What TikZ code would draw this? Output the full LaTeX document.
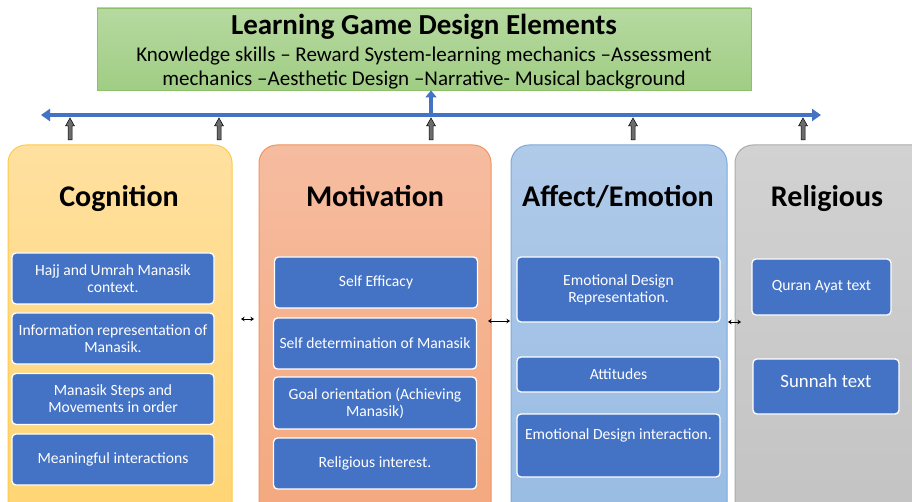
\documentclass[tikz,border=0pt]{standalone}
\usepackage{fontspec}
\setmainfont{Carlito}
\usetikzlibrary{arrows.meta}
\definecolor{boxblue}{HTML}{4472C4}
\definecolor{barblue}{HTML}{4472C4}
\definecolor{gtop}{HTML}{B6D9A0}
\definecolor{gbot}{HTML}{A0CD84}
\definecolor{gline}{HTML}{8CC06A}
\definecolor{ctop}{HTML}{FFE09F}
\definecolor{cbot}{HTML}{FFD470}
\definecolor{cline}{HTML}{FFC94A}
\definecolor{mtop}{HTML}{F6BCA0}
\definecolor{mbot}{HTML}{F4A77C}
\definecolor{mline}{HTML}{F0955C}
\definecolor{atop}{HTML}{B0CAE9}
\definecolor{abot}{HTML}{97BBE3}
\definecolor{aline}{HTML}{7EA9DC}
\definecolor{rtop}{HTML}{D2D2D2}
\definecolor{rbot}{HTML}{C2C2C2}
\definecolor{rline}{HTML}{ABABAB}
\tikzset{
  colbox/.style={rounded corners=18pt, line width=1pt},
  head/.style={font=\fontsize{30}{34}\selectfont\bfseries, text=black, anchor=base},
  inbox/.style={draw=white, line width=1.3pt, fill=boxblue, rounded corners=4pt, text=white,
    font=\fontsize{15.6}{17}\selectfont, align=center, inner sep=0pt},
  uparr/.style={fill=gray!85!black, draw=black, line width=0.5pt},
  dbl/.style={{Stealth[length=3.5pt,width=4.5pt]}-{Stealth[length=3.5pt,width=4.5pt]}, line width=1pt, black},
}
\newcommand{\upblock}[2]{% x, name
  \draw[uparr] (#1-2,140) -- (#1-2,126) -- (#1-4.5,126) -- (#1,118) -- (#1+4.5,126) -- (#1+2,126) -- (#1+2,140) -- cycle;
  \coordinate (#2) at (#1,118);
}
\begin{document}
\begin{tikzpicture}[x=1pt,y=-1pt]
\useasboundingbox (0,0) rectangle (912,502);
\clip (0,0) rectangle (912,502);
\fill[white] (0,0) rectangle (912,502);

% top green box
\node[draw=gline, line width=0.8pt, top color=gtop, bottom color=gbot, minimum width=654pt, minimum height=82pt, inner sep=0pt] (top) at (424,49) {};
\node[font=\fontsize{29}{32}\selectfont\bfseries, anchor=base] (title) at (424,35) {Learning Game Design Elements};
\node[font=\fontsize{21}{24}\selectfont, align=center, anchor=base] (sub) at (424,86) {Knowledge skills -- Reward System-learning mechanics --Assessment\\mechanics --Aesthetic Design --Narrative- Musical background};

% blue bar with arrow up
\coordinate (barL) at (41,115);
\coordinate (barR) at (821,115);
\draw[barblue, line width=4.5pt, {Triangle[length=9pt,width=12pt]}-{Triangle[length=9pt,width=12pt]}] (barL) -- (barR);
\coordinate (upS) at (431,115);
\draw[barblue, line width=4.5pt, -{Triangle[length=7pt,width=11pt]}] (upS) -- (top.south -| upS);

% columns
\draw[colbox, draw=cline, top color=ctop, bottom color=cbot] (8,145) rectangle (232,540);
\draw[colbox, draw=mline, top color=mtop, bottom color=mbot] (259,145) rectangle (491,540);
\draw[colbox, draw=aline, top color=atop, bottom color=abot] (511,145) rectangle (727,540);
\draw[colbox, draw=rline, top color=rtop, bottom color=rbot] (735,145) rectangle (960,540);

% gray up arrows
\upblock{70}{u1}
\upblock{219}{u2}
\upblock{431}{u3}
\upblock{633}{u4}
\upblock{803}{u5}

% headings
\node[head] (hcog) at (119,207) {Cognition};
\node[head] (hmot) at (375,207) {Motivation};
\node[head] (haff) at (618,207) {Affect/Emotion};
\node[head] (hrel) at (827,207) {Religious};

% Cognition boxes
\node[inbox, minimum width=202pt, minimum height=51pt] (c1) at (113,278.5) {Hajj and Umrah Manasik\\context.};
\node[inbox, minimum width=202pt, minimum height=51pt] (c2) at (113,338.5) {Information representation of\\Manasik.};
\node[inbox, minimum width=202pt, minimum height=51pt] (c3) at (113,399) {Manasik Steps and\\Movements in order};
\node[inbox, minimum width=202pt, minimum height=51pt] (c4) at (113,459.5) {Meaningful interactions};

% Motivation boxes
\node[inbox, minimum width=203pt, minimum height=51pt] (m1) at (376,282.5) {Self Efficacy};
\node[inbox, minimum width=203pt, minimum height=51pt] (m2) at (375,343.5) {Self determination of Manasik};
\node[inbox, minimum width=203pt, minimum height=52pt] (m3) at (375,403) {Goal orientation (Achieving\\Manasik)};
\node[inbox, minimum width=203pt, minimum height=51pt] (m4) at (375,463.5) {Religious interest.};

% Affect boxes
\node[inbox, minimum width=203pt, minimum height=65pt] (a1) at (618.5,289.5) {Emotional Design\\Representation.};
\node[inbox, minimum width=203pt, minimum height=35pt] (a2) at (618.5,374.5) {Attitudes};
\node[inbox, minimum width=203pt, text height=25pt, text depth=38pt] (a3) at (618.5,445.5) {Emotional Design interaction.};

% Religious boxes
\node[inbox, minimum width=139pt, minimum height=56pt] (r1) at (821.5,287) {Quran Ayat text};
\node[inbox, minimum width=146pt, font=\fontsize{18.8}{21}\selectfont, text height=28pt, text depth=27pt] (r2) at (826,386.5) {Sunnah text};

% small double arrows between columns
\coordinate (d1a) at (241,319); \coordinate (d1b) at (254,319);
\coordinate (d2a) at (488,321); \coordinate (d2b) at (510,321);
\coordinate (d3a) at (728,322); \coordinate (d3b) at (741,322);
\draw[dbl] (d1a) -- (d1b);
\draw[dbl] (d2a) -- (d2b);
\draw[dbl] (d3a) -- (d3b);
\end{tikzpicture}
\end{document}
